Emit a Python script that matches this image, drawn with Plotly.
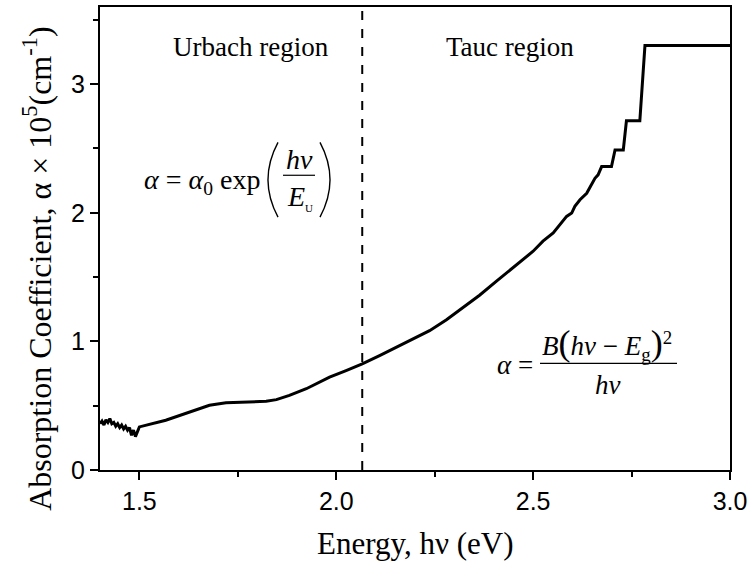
import plotly.graph_objects as go

# ---- data ----
energy_ev = [1.400, 1.405, 1.410, 1.415, 1.420, 1.425, 1.430, 1.435, 1.440, 1.445,
             1.450, 1.455, 1.460, 1.465, 1.470, 1.475, 1.480, 1.485, 1.490, 1.495,
             1.500, 1.567, 1.610, 1.652, 1.678, 1.720, 1.780, 1.822, 1.848, 1.881,
             1.924, 1.958, 1.983, 2.025, 2.066, 2.110, 2.153, 2.195, 2.237, 2.280,
             2.322, 2.364, 2.407, 2.458, 2.500, 2.525, 2.551, 2.585, 2.598, 2.606,
             2.619, 2.636, 2.657, 2.665, 2.674, 2.699, 2.708, 2.729, 2.737, 2.771,
             2.784, 3.000]
alpha_1e5 = [0.36, 0.38, 0.35, 0.39, 0.37, 0.40, 0.36, 0.37, 0.34, 0.36,
             0.33, 0.35, 0.32, 0.34, 0.31, 0.33, 0.27, 0.31, 0.26, 0.30,
             0.335, 0.387, 0.431, 0.480, 0.503, 0.522, 0.526, 0.534, 0.547, 0.580,
             0.632, 0.683, 0.722, 0.773, 0.825, 0.889, 0.954, 1.018, 1.083, 1.168,
             1.263, 1.359, 1.469, 1.598, 1.701, 1.779, 1.843, 1.972, 1.998, 2.050,
             2.101, 2.152, 2.268, 2.295, 2.359, 2.359, 2.488, 2.488, 2.715, 2.715,
             3.300, 3.300]
boundary_energy = 2.066
x_ticks = [1.5, 2.0, 2.5, 3.0]
y_ticks = [0, 1, 2, 3]

SERIF = "Liberation Serif, Times New Roman, serif"
SANS = "Liberation Sans, Arial, sans-serif"

fig = go.Figure()
fig.add_trace(go.Scatter(x=energy_ev, y=alpha_1e5, mode="lines",
                         line=dict(color="black", width=3), showlegend=False))
fig.add_trace(go.Scatter(x=[boundary_energy, boundary_energy], y=[0, 3.6], mode="lines",
                         line=dict(color="black", width=2, dash="dash"), showlegend=False))

L, R, T, B = 100, 24, 5, 98
W, H = 754, 568
PW, PH = W - L - R, H - T - B

def px(xp):
    return (xp - L) / PW

def py(yp):
    return (H - B - yp) / PH

axis_common = dict(showline=True, linecolor="black", linewidth=2, mirror=True,
                   ticks="outside", ticklen=8, tickwidth=2, tickcolor="black",
                   showgrid=False, zeroline=False,
                   tickfont=dict(family=SANS, size=25, color="black"))

fig.update_xaxes(range=[1.4, 3.0], tickvals=x_ticks, ticktext=["1.5", "2.0", "2.5", "3.0"],
                 minor=dict(tickvals=[1.75, 2.25, 2.75], ticks="outside", ticklen=5,
                            tickwidth=2, tickcolor="black"),
                 **axis_common)
fig.update_yaxes(range=[0, 3.6], tickvals=y_ticks,
                 minor=dict(tickvals=[0.5, 1.5, 2.5, 3.5], ticks="outside", ticklen=5,
                            tickwidth=2, tickcolor="black"),
                 **axis_common)

ann = []
def A(text, x, y, size, family=SERIF, xanchor="center", yanchor="middle", angle=0):
    ann.append(dict(text=text, x=px(x), y=py(y), xref="paper", yref="paper",
                    showarrow=False, xanchor=xanchor, yanchor=yanchor, textangle=angle,
                    font=dict(family=family, size=size, color="black")))

# axis titles
A("Energy, hν (eV)", 415, 544, 31)
A("Absorption Coefficient, α × 10<sup>5</sup>(cm<sup>-1</sup>)", 37, 268, 32, angle=-90)

# region labels
A("Urbach region", 251, 45, 27)
A("Tauc region", 510, 45, 27)

# Urbach formula
A("<i>α</i> = <i>α</i><sub>0</sub> exp", 262, 180, 28, xanchor="right")
A("<i>hν</i>", 299, 158, 28)
A("<i>E</i><sub><span style='font-size:11px'>U</span></sub>", 300, 196, 28)

# Tauc formula
A("<i>α</i> =", 535, 365, 27, xanchor="right")
A("<i>B</i><span style='font-size:36px'>(</span><i>hν</i> − <i>E</i><sub>g</sub><span style='font-size:36px'>)</span><sup>2</sup>",
  607, 343, 27)
A("<i>hν</i>", 608, 385, 27)

def P(path):
    return dict(type="path", xref="paper", yref="paper", path=path,
                line=dict(color="black", width=1.4))

def paren(x_end, x_mid, y0, y1):
    ym = (y0 + y1) / 2
    return (f"M {px(x_end)},{py(y0)} Q {px(x_mid)},{py(ym)} {px(x_end)},{py(y1)}")

shapes = [
    dict(type="line", xref="paper", yref="paper", x0=px(283), x1=px(315), y0=py(174), y1=py(174),
         line=dict(color="black", width=1.2)),
    dict(type="line", xref="paper", yref="paper", x0=px(540), x1=px(677), y0=py(363), y1=py(363),
         line=dict(color="black", width=1.2)),
    P(paren(278, 258, 141, 216)),
    P(paren(320, 340, 141, 216)),
]

fig.update_layout(width=W, height=H, margin=dict(l=L, r=R, t=T, b=B),
                  plot_bgcolor="white", paper_bgcolor="white",
                  annotations=ann, shapes=shapes, showlegend=False)

fig.write_html("out.html")
